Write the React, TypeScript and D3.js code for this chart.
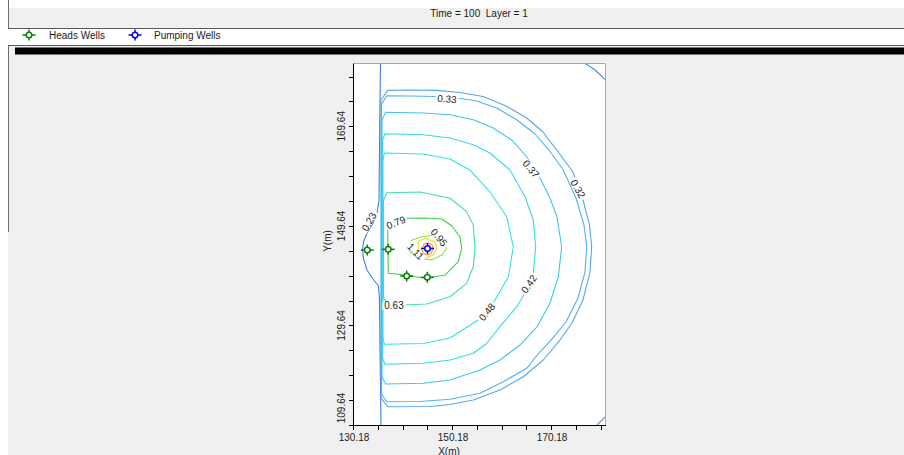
import React from "react";
import * as d3 from "d3";

// ---- plot data (model coordinates, metres) ----
const xTicks = [130.18, 135.18, 140.18, 145.18, 150.18, 155.18, 160.18, 165.18, 170.18, 175.18, 180.18];
const xTickLabels = ["130.18", "150.18", "170.18"];
const yTicks = [109.64, 114.64, 119.64, 124.64, 129.64, 134.64, 139.64, 144.64, 149.64, 154.64, 159.64, 164.64, 169.64, 174.64, 179.64];
const yTickLabels = ["109.64", "129.64", "149.64", "169.64"];

const headsWellsX = [132.86, 137.10, 140.82, 144.98];
const headsWellsY = [144.79, 144.93, 139.57, 139.31];
const pumpingWellsX = [145.02];
const pumpingWellsY = [145.10];

type Pt = [number, number];

const contour023: Pt[] = [
  [135.53, 182.26], [135.43, 174.93], [135.33, 164.88], [135.23, 154.84], [134.82, 152.03],
  [133.81, 149.82], [132.80, 148.21], [132.10, 146.40], [131.90, 144.79], [132.10, 142.99],
  [132.80, 140.78], [134.02, 138.97], [135.13, 137.56], [135.33, 134.75], [135.43, 124.71],
  [135.63, 109.64],
];
const contourCornerTop: Pt[] = [
  [176.81, 182.26], [177.82, 181.66], [178.83, 180.95], [179.84, 180.05], [180.85, 179.00],
];
const contourCornerBottom: Pt[] = [
  [179.23, 109.64], [180.04, 110.44], [180.85, 111.25],
];
const contour032: Pt[] = [
  [135.63, 174.93], [136.98, 176.87], [141.48, 176.93], [146.87, 176.87], [151.58, 176.43],
  [156.22, 175.63], [161.00, 173.66], [165.04, 171.31], [168.33, 168.50], [171.10, 164.88],
  [174.39, 160.46], [176.41, 154.84], [177.72, 149.82], [178.16, 145.40], [177.82, 140.37],
  [176.41, 134.75], [174.19, 130.13], [171.76, 126.71], [168.39, 122.70], [164.35, 119.34],
  [159.65, 116.67], [154.26, 114.66], [149.56, 113.76], [145.52, 113.36], [136.98, 113.32],
  [135.63, 115.06],
];
const contour033: Pt[] = [
  [135.73, 174.12], [136.78, 175.79], [141.48, 175.73], [146.87, 175.63], [151.58, 175.23],
  [154.61, 174.83], [158.99, 173.32], [163.02, 170.97], [166.72, 168.10], [169.54, 164.88],
  [172.43, 160.86], [174.99, 155.24], [176.61, 149.82], [177.15, 145.40], [176.81, 140.37],
  [175.40, 135.15], [172.97, 130.33], [169.95, 126.71], [167.32, 123.90], [165.04, 121.03],
  [160.32, 118.34], [155.61, 116.01], [149.56, 114.80], [143.50, 114.36], [136.78, 114.32],
  [135.73, 115.87],
];
const contour037: Pt[] = [
  [135.83, 170.91], [136.58, 172.46], [144.17, 172.31], [149.56, 171.97], [154.26, 170.97],
  [158.30, 169.30], [162.34, 166.63], [165.04, 163.48], [167.73, 159.26], [169.74, 155.24],
  [171.16, 151.42], [172.11, 145.40], [171.42, 139.37], [169.74, 134.15], [167.12, 129.33],
  [163.69, 125.71], [159.65, 122.70], [155.61, 120.69], [149.56, 118.68], [144.17, 118.02],
  [136.58, 117.88], [135.83, 119.28],
];
const contour042: Pt[] = [
  [135.93, 166.89], [136.44, 168.16], [144.17, 167.96], [149.56, 167.29], [154.26, 165.95],
  [157.63, 164.28], [161.67, 160.86], [164.70, 155.50], [166.37, 150.82], [166.86, 145.40],
  [166.37, 140.11], [165.10, 136.76], [163.02, 133.40], [159.65, 129.39], [156.83, 125.91],
  [154.26, 124.04], [149.56, 122.70], [144.17, 122.03], [136.44, 121.83], [135.93, 123.10],
];
const contour048: Pt[] = [
  [136.03, 162.87], [136.30, 164.28], [144.17, 164.08], [149.56, 163.07], [153.60, 160.86],
  [157.63, 156.45], [161.00, 151.48], [162.34, 145.40], [161.33, 139.37], [158.30, 134.15],
  [155.21, 130.73], [149.56, 127.12], [144.17, 126.01], [136.30, 125.85], [136.03, 127.12],
];
const contour063: Pt[] = [
  [136.13, 154.84], [136.78, 156.30], [143.50, 156.45], [149.56, 155.18], [152.93, 152.49],
  [154.26, 149.82], [154.61, 145.20], [154.26, 141.44], [152.93, 138.10], [149.56, 135.41],
  [144.86, 133.95], [140.13, 133.75], [136.84, 133.95], [136.13, 135.35],
];
const contour079: Pt[] = [
  [136.98, 148.81], [137.85, 150.42], [140.82, 151.16], [144.51, 151.22], [147.94, 151.02],
  [149.96, 149.62], [151.58, 147.41], [151.92, 145.14], [151.23, 142.44], [148.55, 139.77],
  [144.51, 139.11], [140.47, 139.77], [137.10, 140.11],
];
const contour095: Pt[] = [
  [140.82, 145.46], [141.89, 146.80], [143.85, 147.47], [146.13, 147.71], [147.54, 147.10],
  [148.89, 145.14], [147.94, 143.79], [145.86, 142.79], [143.50, 143.09], [141.69, 144.19],
];
const contour111: Pt[] = [
  [143.16, 146.46], [144.51, 147.14], [146.53, 146.46], [146.87, 145.14], [146.19, 143.79],
  [144.51, 143.13], [143.16, 144.13],
];
const contourInner: Pt[] = [
  [143.91, 144.99], [144.31, 146.00], [145.12, 146.20], [145.93, 145.80], [146.23, 144.99],
  [145.72, 144.09], [144.92, 143.79], [144.11, 144.19],
];

const contourLines = [
  { level: 0.23, points: contour023, closed: false },
  { level: 0.27, points: contourCornerTop, closed: false },
  { level: 0.27, points: contourCornerBottom, closed: false },
  { level: 0.32, points: contour032, closed: true },
  { level: 0.33, points: contour033, closed: true },
  { level: 0.37, points: contour037, closed: true },
  { level: 0.42, points: contour042, closed: true },
  { level: 0.48, points: contour048, closed: true },
  { level: 0.63, points: contour063, closed: true },
  { level: 0.79, points: contour079, closed: true },
  { level: 0.95, points: contour095, closed: true },
  { level: 1.11, points: contour111, closed: true },
  { level: 1.27, points: contourInner, closed: true },
];

// contour label text, anchor (model coords) and text angle
const contourLabels: [string, number, number, number][] = [
  ["0.23", 133.21, 150.48, -60],
  ["0.32", 175.40, 157.05, 60],
  ["0.33", 148.95, 175.13, 5],
  ["0.37", 165.91, 161.07, 50],
  ["0.42", 165.51, 137.96, -55],
  ["0.48", 157.03, 132.34, -50],
  ["0.63", 138.25, 133.65, 0],
  ["0.79", 138.66, 150.32, -22],
  ["0.95", 147.34, 147.31, 50],
  ["1.11", 142.59, 144.49, 45],
];

// ---- styles ----
const levelColor = d3
  .scaleThreshold<number, string>()
  .domain([0.25, 0.3, 0.325, 0.35, 0.4, 0.45, 0.55, 0.7, 0.85, 1.0, 1.2])
  .range([
    "#3f7de0", "#4a8ce6", "#55a6ee", "#4cb2f2", "#42c4f5", "#37d6f4",
    "#2fe4e6", "#3ee0a6", "#3fcf47", "#8fe052", "#f2dc1c", "#ff9330",
  ]);

const FONT = "'Liberation Sans', Arial, sans-serif";
const PLOT = { left: 354, right: 605, top: 63.5, bottom: 425 };

function WellMarker({ x, y, color }: { x: number; y: number; color: string }) {
  return (
    <g stroke={color} strokeWidth={1.5} fill="none">
      <line x1={x - 6.5} x2={x + 6.5} y1={y} y2={y} />
      <line x1={x} x2={x} y1={y - 5.5} y2={y + 5.5} />
      <circle cx={x} cy={y} r={2.8} fill="#ffffff" />
    </g>
  );
}

export default function App() {
  const x = d3.scaleLinear().domain([130.18, 180.85]).range([PLOT.left, PLOT.right]);
  const y = d3.scaleLinear().domain([109.64, 182.26]).range([PLOT.bottom, PLOT.top]);

  const openLine = d3.line<Pt>().x((d) => x(d[0])).y((d) => y(d[1]));
  const closedLine = d3
    .line<Pt>()
    .x((d) => x(d[0]))
    .y((d) => y(d[1]))
    .curve(d3.curveLinearClosed);

  const yLabelHalf = 16;

  return (
    <svg
      width={904}
      height={455}
      style={{ position: "absolute", left: 0, top: 0, display: "block" }}
      fontFamily={FONT}
    >
      <defs>
        <clipPath id="plot-clip">
          <rect x={PLOT.left} y={PLOT.top} width={PLOT.right - PLOT.left} height={PLOT.bottom - PLOT.top} />
        </clipPath>
      </defs>
      <rect x={0} y={0} width={904} height={455} fill="#ffffff" />
      <rect x={8} y={8} width={896} height={447} fill="#f0f0f0" />
      <line x1={8.5} x2={8.5} y1={0} y2={232} stroke="#6e6e6e" />

      {/* title */}
      <text x={479} y={16.5} fontSize={10} textAnchor="middle" fill="#1a1a1a" style={{ whiteSpace: "pre" }}>
        {"Time = 100  Layer = 1"}
      </text>

      {/* legend strip */}
      <rect x={8} y={28.5} width={896} height={17} fill="#ffffff" />
      <line x1={8} x2={904} y1={28.5} y2={28.5} stroke="#5a5a5a" />
      <line x1={8} x2={904} y1={45.5} y2={45.5} stroke="#5a5a5a" />
      <WellMarker x={29} y={35} color="#0c7a0c" />
      <text x={49} y={38.5} fontSize={10} fill="#1a1a1a">Heads Wells</text>
      <WellMarker x={135} y={35} color="#0000f0" />
      <text x={154} y={38.5} fontSize={10} fill="#1a1a1a">Pumping Wells</text>
      <rect x={15} y={47.5} width={889} height={7} fill="#000000" />

      {/* plot area */}
      <rect
        x={PLOT.left}
        y={PLOT.top}
        width={PLOT.right - PLOT.left}
        height={PLOT.bottom - PLOT.top}
        fill="#ffffff"
      />

      <g clipPath="url(#plot-clip)" fill="none" strokeWidth={1.1} strokeLinejoin="round">
        {contourLines.map((c, i) => (
          <path
            key={i}
            d={(c.closed ? closedLine(c.points) : openLine(c.points)) || ""}
            stroke={levelColor(c.level)}
          />
        ))}
      </g>

      {/* contour labels */}
      <g fontSize={10} fill="#222222">
        {contourLabels.map(([t, lx, ly, a], i) => (
          <g key={i} transform={`translate(${x(lx)},${y(ly)}) rotate(${a})`}>
            <rect x={-t.length * 2.9} y={-3.8} width={t.length * 5.8} height={7.6} fill="#ffffff" />
            <text textAnchor="middle" dy="0.35em">{t}</text>
          </g>
        ))}
      </g>

      {/* wells */}
      {headsWellsX.map((wx, i) => (
        <WellMarker key={`h${i}`} x={x(wx)} y={y(headsWellsY[i])} color="#0c7a0c" />
      ))}
      {pumpingWellsX.map((wx, i) => (
        <WellMarker key={`p${i}`} x={x(wx)} y={y(pumpingWellsY[i])} color="#0000f0" />
      ))}

      {/* frame */}
      <line x1={PLOT.left} x2={PLOT.right} y1={PLOT.top} y2={PLOT.top} stroke="#a8a8a8" />
      <line x1={PLOT.right + 0.5} x2={PLOT.right + 0.5} y1={PLOT.top} y2={PLOT.bottom} stroke="#a8a8a8" />
      <line x1={PLOT.left - 0.5} x2={PLOT.left - 0.5} y1={PLOT.top} y2={PLOT.bottom + 1} stroke="#000000" />
      <line x1={PLOT.left - 1} x2={PLOT.right + 1} y1={PLOT.bottom + 0.5} y2={PLOT.bottom + 0.5} stroke="#000000" />

      {/* x axis */}
      <g stroke="#000000">
        {xTicks.map((t, i) => (
          <line key={i} x1={Math.round(x(t)) - 0.5} x2={Math.round(x(t)) - 0.5} y1={PLOT.bottom} y2={PLOT.bottom + 5} />
        ))}
      </g>
      <g fontSize={10} fill="#1a1a1a" textAnchor="middle">
        {xTickLabels.map((l) => (
          <text key={l} x={x(+l)} y={441}>{l}</text>
        ))}
        <text x={449} y={454.5}>X(m)</text>
      </g>

      {/* y axis */}
      <g stroke="#000000">
        {yTicks.map((t, i) => (
          <line key={i} x1={PLOT.left - 5} x2={PLOT.left} y1={Math.round(y(t)) + 0.5} y2={Math.round(y(t)) + 0.5} />
        ))}
      </g>
      <g fontSize={10} fill="#1a1a1a" textAnchor="middle">
        {yTickLabels.map((l) => {
          const cy = Math.max(PLOT.top + yLabelHalf, Math.min(PLOT.bottom - yLabelHalf - 1, y(+l)));
          return (
            <text key={l} transform={`translate(345,${cy}) rotate(-90)`}>{l}</text>
          );
        })}
        <text transform="translate(331,241) rotate(-90)">Y(m)</text>
      </g>
    </svg>
  );
}
